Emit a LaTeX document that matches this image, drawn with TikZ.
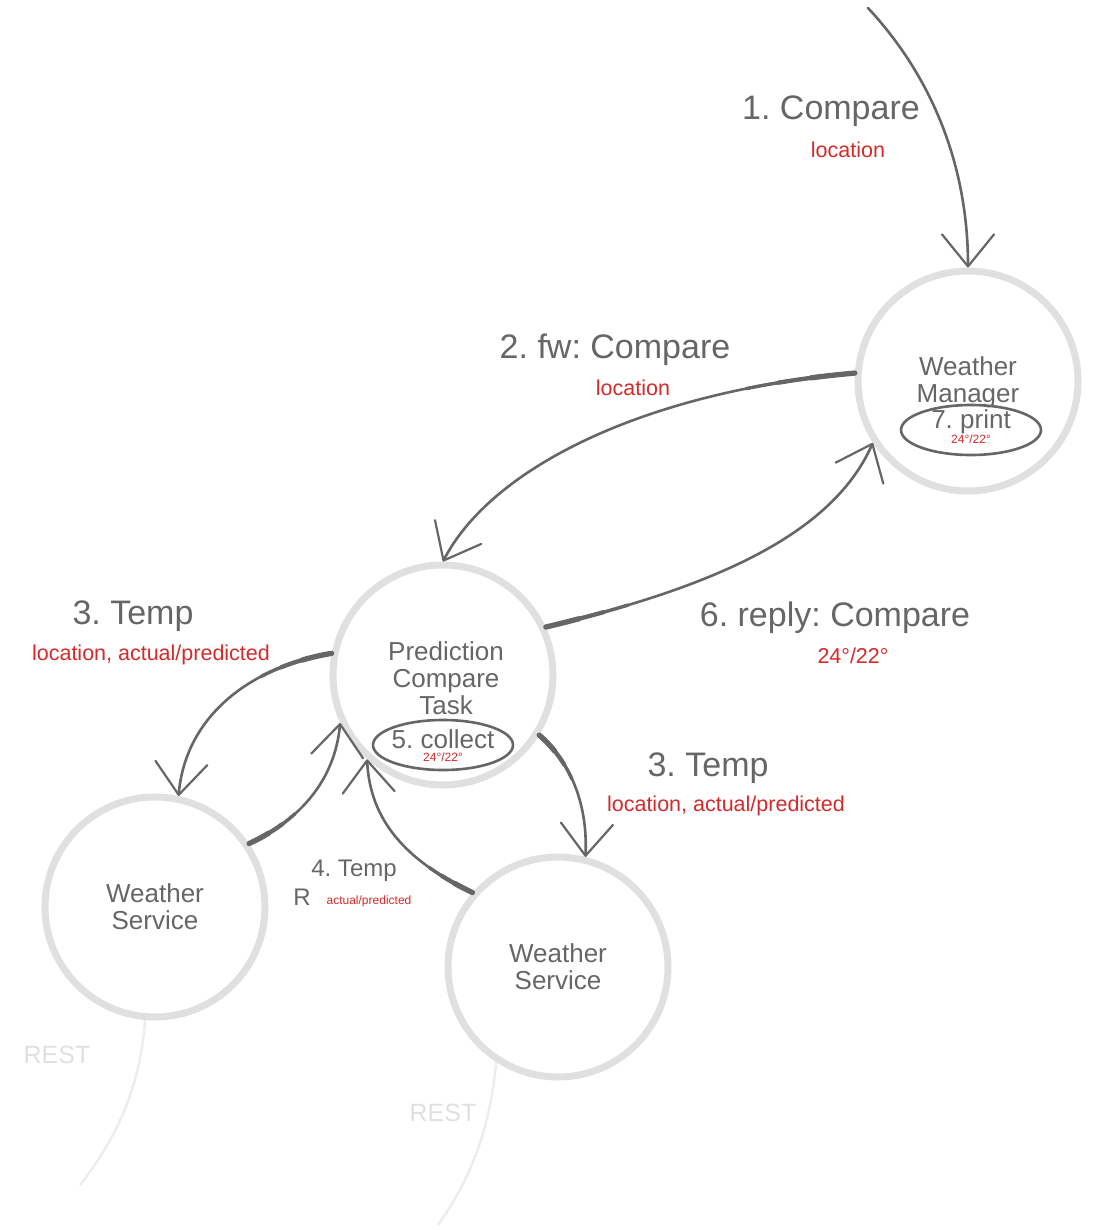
\documentclass[tikz,border=0pt]{standalone}
\usepackage{fontspec}
\setmainfont{Liberation Sans}
\frenchspacing
\usetikzlibrary{arrows.meta,shapes.geometric}
\definecolor{txt}{HTML}{666666}
\definecolor{ring}{HTML}{E0E0E0}
\definecolor{lbl}{HTML}{D42A2A}
\definecolor{restc}{HTML}{EDEDED}
\begin{document}
\begin{tikzpicture}[x=1pt,y=-1pt,
  actor/.style={circle, draw=ring, line width=7pt, minimum size=220pt, inner sep=0pt},
  actortext/.style={align=center, text=txt, font=\fontsize{26}{27}\selectfont, inner sep=0pt},
  action/.style={ellipse, draw=txt, line width=2.6pt, minimum width=140pt, minimum height=50pt,
    inner sep=0pt},
  actiontext/.style={text=txt, font=\fontsize{26}{26}\selectfont, inner sep=0pt},
  msg/.style={text=txt, font=\fontsize{34}{36}\selectfont, inner sep=0pt},
  param/.style={text=lbl, font=\fontsize{21.5}{24}\selectfont, inner sep=0pt},
  tiny/.style={text=lbl, font=\fontsize{12}{13}\selectfont, inner sep=0pt},
  conn/.style={draw=txt, line width=2.6pt, line cap=round,
    -{Straight Barb[length=32pt,width=52pt,line width=2.2pt,round]}},
  thickstart/.style={
    postaction={draw=txt, -, line width=3.4pt, line cap=round, dash pattern=on #1 off 5000pt},
    postaction={draw=txt, -, line width=4.3pt, line cap=round, dash pattern=on 0.7*#1 off 5000pt},
    postaction={draw=txt, -, line width=5.3pt, line cap=round, dash pattern=on 0.4*#1 off 5000pt}},
  restline/.style={draw=restc, line width=2.5pt},
  resttext/.style={text=ring, font=\fontsize{25}{26}\selectfont, inner sep=0pt}
]
\useasboundingbox (0,0) rectangle (1113,1230);

% actors
\node[actor] (wm) at (968,381) {};
\node[actor] (pct) at (443,675) {};
\node[actor] (wsl) at (155,907) {};
\node[actor] (wsr) at (558,967) {};
\node[actortext] (wmt) at (968,382) {Weather\\Manager};
\node[actortext] (pctt) at (446,678) {Prediction\\Compare\\Task};
\node[actortext] (wslt) at (155,907) {Weather\\Service};
\node[actortext] (wsrt) at (558,967) {Weather\\Service};

% actions inside actors
\node[action] (print) at (971,430) {};
\node[actiontext] (printt) at (971,422) {7. print};
\node[tiny] (printv) at (971,439) {24°/22°};
\node[action] (collect) at (443,745) {};
\node[actiontext] (collectt) at (443,739) {5. collect};
\node[tiny] (collectv) at (443,757) {24°/22°};

% free ends
\coordinate (src) at (868,8);
\coordinate (restl) at (80,1185);
\coordinate (restr) at (438,1225);

% connectors
\draw[conn] (src) .. controls (935,80) and (968,170) .. (wm.90);
\draw[conn, thickstart=110pt] (wm.176) .. controls (640,392) and (490,470) .. (pct.90);
\draw[conn, thickstart=85pt] (pct.25) .. controls (700,590) and (830,540) .. (wm.213);
\draw[conn, thickstart=75pt] (pct.169) .. controls (245,668) and (185,720) .. (wsl.78);
\draw[conn, thickstart=55pt] (wsl.34) .. controls (300,820) and (335,780) .. (pct.205);
\draw[conn, thickstart=50pt] (wsr.139) .. controls (405,860) and (370,820) .. (pct.228);
\draw[conn, thickstart=55pt] (pct.328) .. controls (568,760) and (588,800) .. (wsr.76);
\draw[restline] (wsl.265) .. controls (140,1090) and (115,1140) .. (restl);
\draw[restline] (wsr.237) .. controls (490,1130) and (470,1180) .. (restr);

% labels
\node[msg] (m1) at (831,111) {1. Compare};
\node[param] (p1) at (848,150) {location};
\node[msg] (m2) at (615,350) {2. fw: Compare};
\node[param] (p2) at (633,388) {location};
\node[msg] (m6) at (835,618) {6. reply: Compare};
\node[param] (p6) at (853,656) {24°/22°};
\node[msg] (m3l) at (133,616) {3. Temp};
\node[param] (p3l) at (151,655) {location, actual/predicted};
\node[msg] (m3r) at (708,768) {3. Temp};
\node[param] (p3r) at (726,806) {location, actual/predicted};
\node[text=txt, font=\fontsize{24}{25}\selectfont, inner sep=0pt] (m4) at (354,871) {4. Temp};
\node[text=txt, font=\fontsize{24}{25}\selectfont, inner sep=0pt] (m4r) at (302,897) {R};
\node[tiny] (p4) at (369,901) {actual/predicted};
\node[resttext] (rl) at (57,1055) {REST};
\node[resttext] (rr) at (443,1113) {REST};
\end{tikzpicture}
\end{document}
